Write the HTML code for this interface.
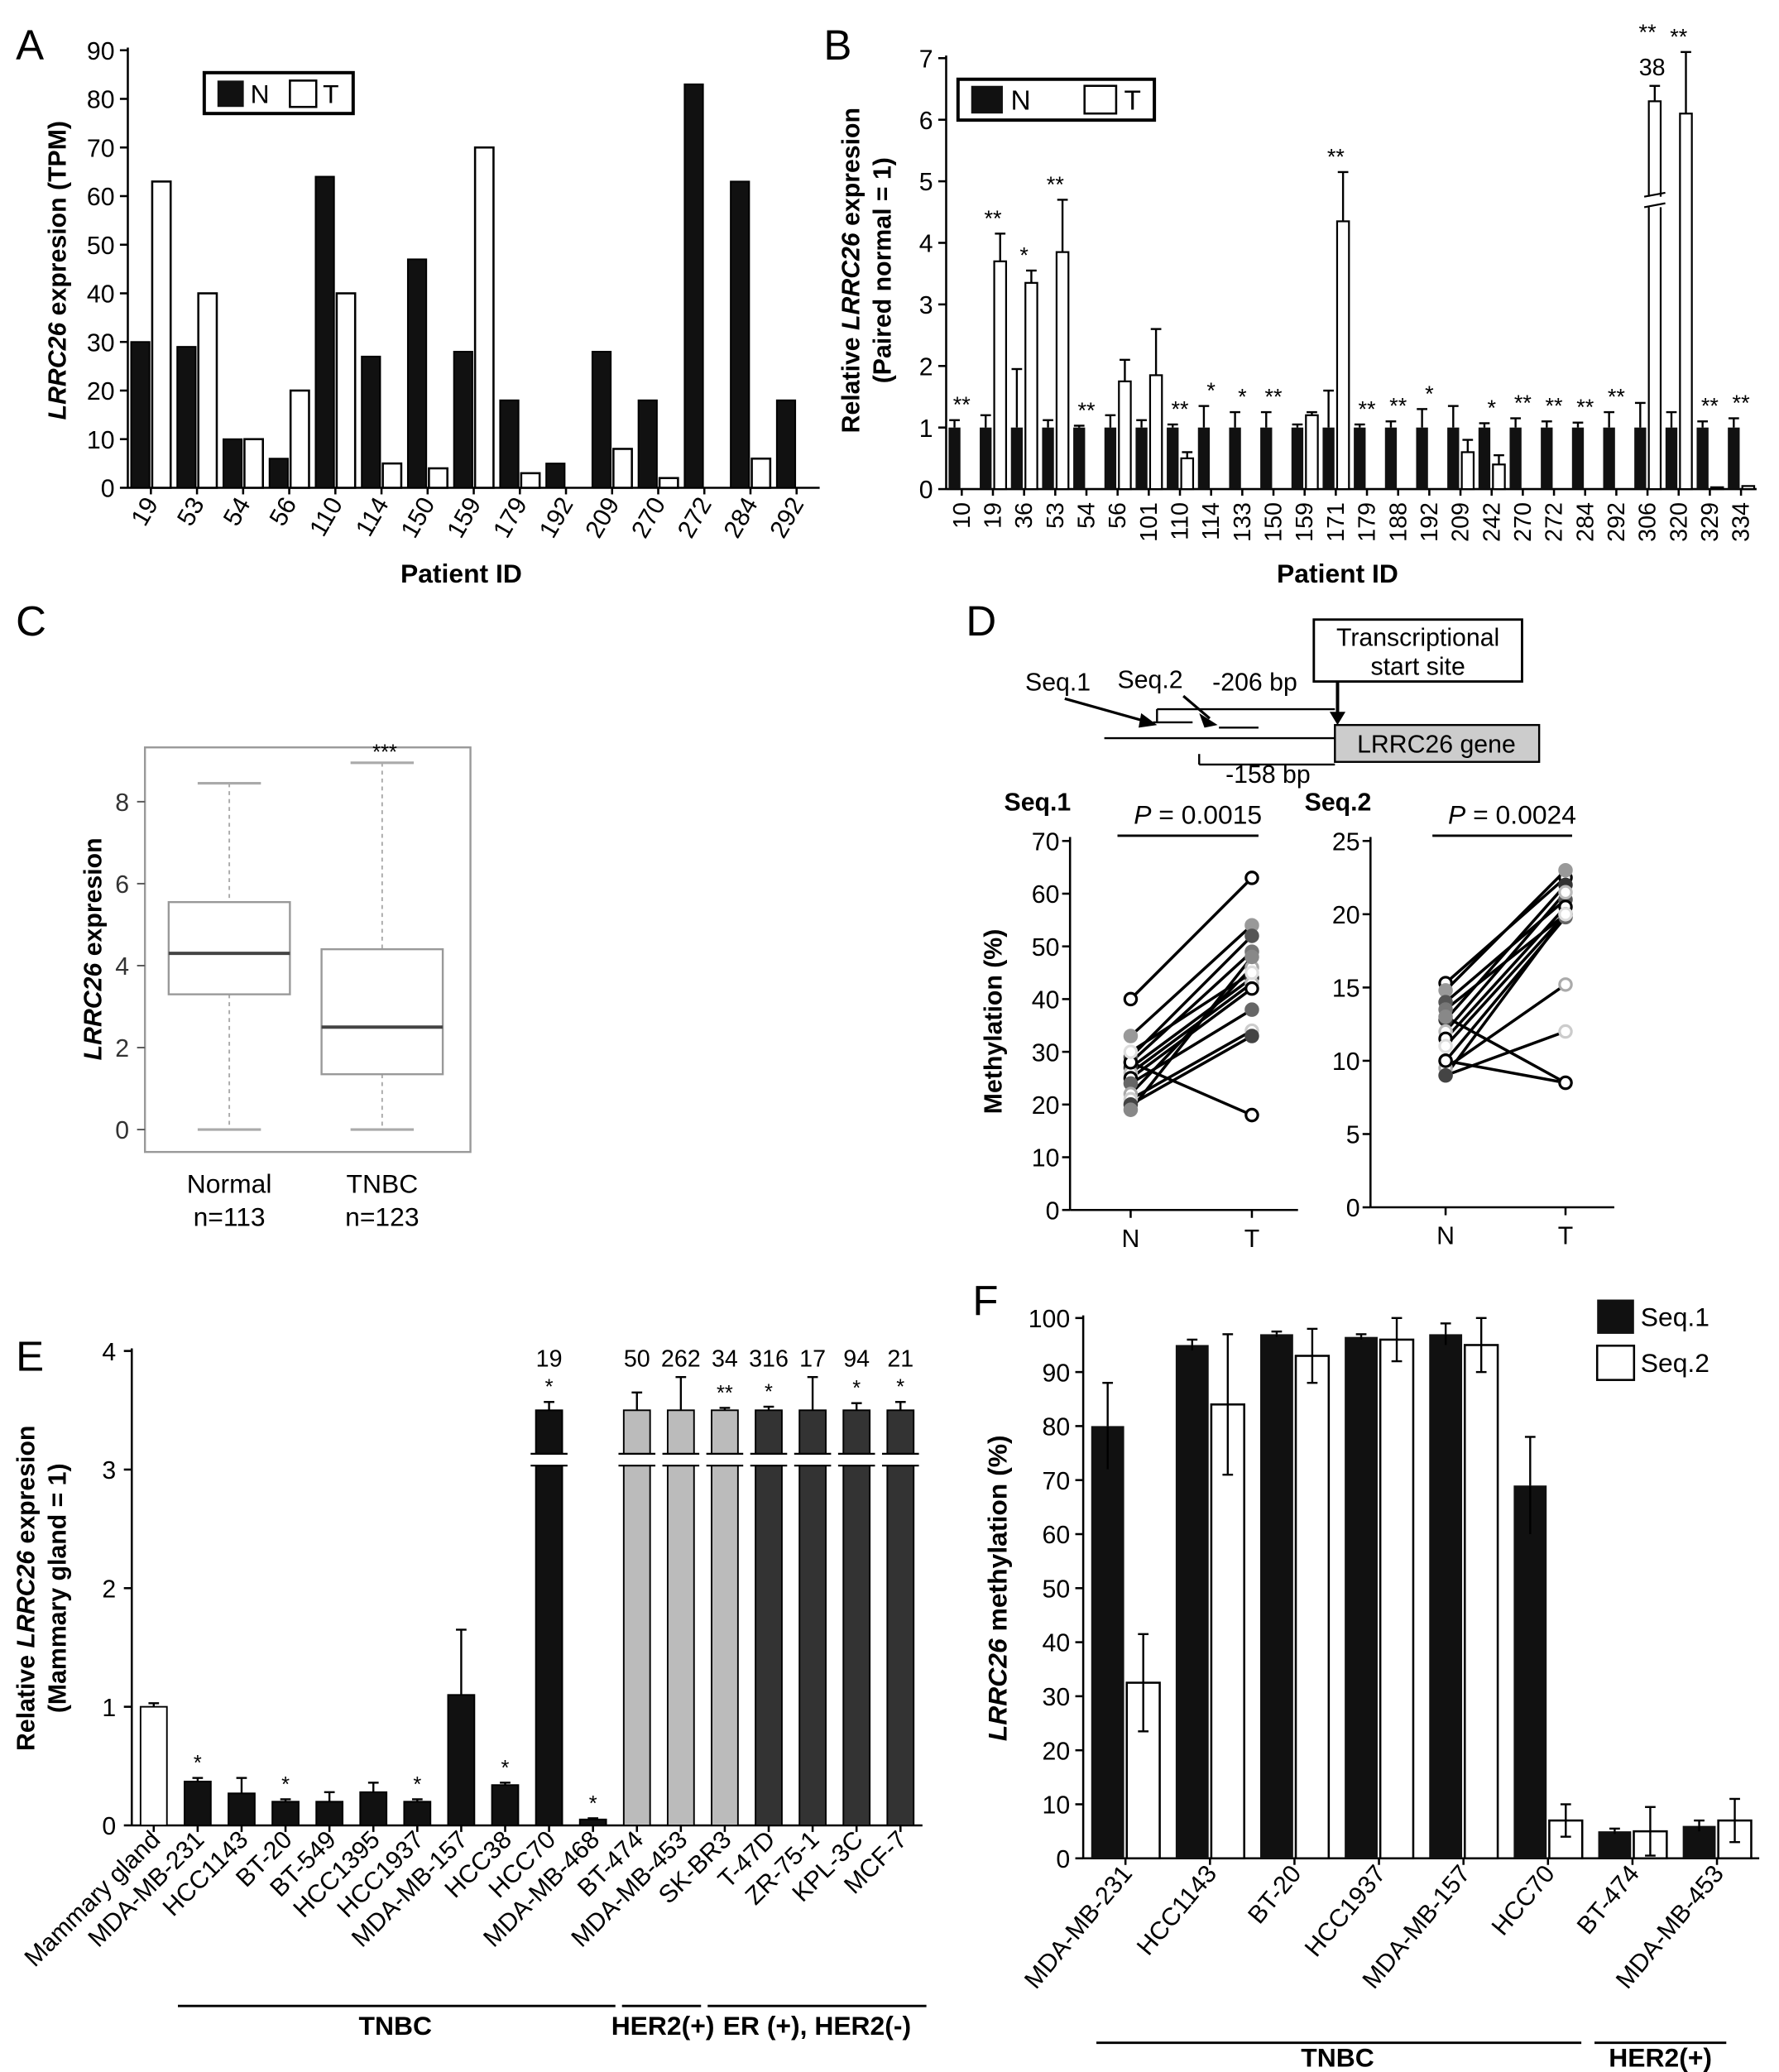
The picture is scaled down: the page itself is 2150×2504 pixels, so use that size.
<!DOCTYPE html>
<html><head><meta charset="utf-8"><style>
html,body{margin:0;padding:0;background:#fff}
svg{display:block;font-family:"Liberation Sans",Arial,sans-serif}
</style></head><body>
<svg id="fig" xmlns="http://www.w3.org/2000/svg" width="2150" height="2504" viewBox="0 0 1350 1572"></svg>
<script>
// ---------- DATA ----------
const aPatients=["19","53","54","56","110","114","150","159","179","192","209","270","272","284","292"];
const aN=[30,29,10,6,64,27,47,28,18,5,28,18,83,63,18];
const aT=[63,40,10,20,40,5,4,70,3,0,8,2,0,6,0];
const aTicks=[0,10,20,30,40,50,60,70,80,90];

const bPatients=["10","19","36","53","54","56","101","110","114","133","150","159","171","179","188","192","209","242","270","272","284","292","306","320","329","334"];
const bN=[1,1,1,1,1,1,1,1,1,1,1,1,1,1,1,1,1,1,1,1,1,1,1,1,1,1];
const bNerr=[0.12,0.2,0.95,0.12,0.03,0.2,0.12,0.05,0.35,0.25,0.25,0.05,0.6,0.05,0.1,0.3,0.35,0.07,0.15,0.1,0.08,0.25,0.4,0.25,0.1,0.15];
const bT=[0,3.7,3.35,3.85,0,1.75,1.85,0.5,0,0,0,1.2,4.35,0,0,0,0.6,0.4,0,0,0,0,6.3,6.1,0.03,0.05];
const bTerr=[0,0.45,0.2,0.85,0,0.35,0.75,0.1,0,0,0,0.05,0.8,0,0,0,0.2,0.15,0,0,0,0,0.25,1.0,0,0];
const bStars=["**","**","*","**","**","","","**","*","*","**","","**","**","**","*","","*","**","**","**","**","**","**","**","**"];
const bTicks=[0,1,2,3,4,5,6,7];

const cGroups=["Normal","TNBC"];
const cN=["n=113","n=123"];
const cMin=[0,0],cQ1=[3.3,1.35],cMed=[4.3,2.5],cQ3=[5.55,4.4],cMax=[8.45,8.95];
const cTicks=[0,2,4,6,8];

const d1N=[40,33,29,28,27,26,25,24,22,21,20,19,28,30];
const d1T=[63,54,52,49,44,43,42,38,46,34,33,48,18,45];
const d2N=[15.3,14.8,14,13.5,12.8,12,11.5,10,9.5,9,9,13,10,11];
const d2T=[22.5,23,21,20,22,21.5,20.5,19.8,15.2,12,20,8.5,8.5,20];
const dColors=["#000","#999","#555","#777","#333","#bbb","#000","#666","#aaa","#ccc","#444","#888","#000","#ddd"];
const dFill=[false,true,true,true,true,false,false,true,false,false,true,true,false,false];
const d1Ticks=[0,10,20,30,40,50,60,70];
const d2Ticks=[0,5,10,15,20,25];

const eLines=["Mammary gland","MDA-MB-231","HCC1143","BT-20","BT-549","HCC1395","HCC1937","MDA-MB-157","HCC38","HCC70","MDA-MB-468","BT-474","MDA-MB-453","SK-BR3","T-47D","ZR-75-1","KPL-3C","MCF-7"];
const eVals=[1.0,0.37,0.27,0.2,0.2,0.28,0.2,1.1,0.34,3.5,0.05,3.5,3.5,3.5,3.5,3.5,3.5,3.5];
const eErr=[0.03,0.03,0.13,0.02,0.08,0.08,0.02,0.55,0.02,0.07,0.01,0.15,0.28,0.02,0.03,0.28,0.06,0.07];
const eTop=["","","","","","","","","","19","","50","262","34","316","17","94","21"];
const eStars=["","*","","*","","","*","","*","*","*","","","**","*","","*","*"];
const eFill=["#fff","#111","#111","#111","#111","#111","#111","#111","#111","#111","#111","#bbb","#bbb","#bbb","#333","#333","#333","#333"];
const eTicks=[0,1,2,3,4];

const fLines=["MDA-MB-231","HCC1143","BT-20","HCC1937","MDA-MB-157","HCC70","BT-474","MDA-MB-453"];
const fS1=[80,95,97,96.5,97,69,5,6];
const fS1e=[8,1,0.5,0.5,2,9,0.5,1];
const fS2=[32.5,84,93,96,95,7,5,7];
const fS2e=[9,13,5,4,5,3,4.5,4];
const fTicks=[0,10,20,30,40,50,60,70,80,90,100];

// ---------- HELPERS ----------
const NS="http://www.w3.org/2000/svg";
const svg=document.getElementById('fig');
function mk(tag,at,par){const e=document.createElementNS(NS,tag);for(const k in at)e.setAttribute(k,at[k]);(par||svg).appendChild(e);return e;}
function txt(x,y,s,size,at,par){const t=mk('text',Object.assign({x:x,y:y,'font-size':size},at||{}),par);t.textContent=s;return t;}
function grp(name){const g=mk('g',{});return g;}
function line(x1,y1,x2,y2,par,w,c){return mk('line',{x1:x1,y1:y1,x2:x2,y2:y2,stroke:c||'#000','stroke-width':w||1.6},par);}
function errbar(x,y1,y2,par){line(x,y1,x,y2,par,1.5);line(x-4,y2,x+4,y2,par,1.5);}

// ---------- PANEL A ----------
(function(){
const g=grp('panel-a');
const x0=97,x1=622,y0=370,yT=38,maxV=90;
const ys=v=>y0-(v/maxV)*(y0-yT);
const gw=(x1-x0)/aPatients.length;
let p=txt(12,45,"A",32,{},g);
line(x0,yT-2,x0,y0,g);line(x0,y0,x1,y0,g);
aTicks.forEach(v=>{line(x0-6,ys(v),x0,ys(v),g);const t=txt(x0-10,ys(v)+7,String(v),19,{'text-anchor':'end'},g);
});
aPatients.forEach((pid,i)=>{
 const cx=x0+gw*(i+0.5);
 const r1=mk('rect',{x:cx-15,y:ys(aN[i]),width:14,height:y0-ys(aN[i]),fill:'#111',stroke:'#000','stroke-width':1.2},g);
 
 const r2=mk('rect',{x:cx+1,y:ys(aT[i]),width:14,height:y0-ys(aT[i]),fill:'#fff',stroke:'#000','stroke-width':1.6},g);
 
 line(cx,y0,cx,y0+5,g);
 const t=txt(cx+6,y0+12,pid,19,{'text-anchor':'end',transform:`rotate(-60 ${cx+6} ${y0+12})`},g);
 
});
let t=txt(350,442,"Patient ID",20,{'text-anchor':'middle','font-weight':'bold'},g);

t=mk('text',{x:0,y:0,'font-size':19,'font-weight':'bold','text-anchor':'middle',transform:'translate(50,205) rotate(-90)'},g);
t.innerHTML='<tspan font-style="italic">LRRC26</tspan> expresion (TPM)';

const lg=grp('a-legend');g.appendChild(lg);
mk('rect',{x:155,y:55,width:113,height:31,fill:'#fff',stroke:'#000','stroke-width':2.5},lg);
mk('rect',{x:165,y:61,width:20,height:20,fill:'#111'},lg);txt(190,78,"N",20,{},lg);
mk('rect',{x:220,y:61,width:20,height:20,fill:'#fff',stroke:'#000','stroke-width':1.6},lg);txt(245,78,"T",20,{},lg);
})();

// ---------- PANEL B ----------
(function(){
const g=grp('panel-b');
const x0=718,x1=1333,y0=371,yT=44,maxV=7;
const ys=v=>y0-(v/maxV)*(y0-yT);
const gw=(x1-x0)/bPatients.length;
let p=txt(625,45,"B",32,{},g);
line(x0,yT-2,x0,y0,g);line(x0,y0,x1,y0,g);
bTicks.forEach(v=>{line(x0-6,ys(v),x0,ys(v),g);const t=txt(x0-10,ys(v)+7,String(v),19,{'text-anchor':'end'},g);
});
bPatients.forEach((pid,i)=>{
 const cx=x0+gw*(i+0.5);
 const r1=mk('rect',{x:cx-10,y:ys(bN[i]),width:9,height:y0-ys(bN[i]),fill:'#111'},g);
 
 errbar(cx-5.5,ys(bN[i]),ys(bN[i]+bNerr[i]),g);
 const r2=mk('rect',{x:cx+1,y:ys(bT[i]),width:9,height:y0-ys(bT[i]),fill:'#fff',stroke:'#000','stroke-width':1.4},g);
 
 if(bTerr[i]>0)errbar(cx+5.5,ys(bT[i]),ys(bT[i]+bTerr[i]),g);
 const top=Math.max(bN[i]+bNerr[i],bT[i]+bTerr[i]);
 const sy=pid==="306"?30:ys(top)-6;
 if(bStars[i]){const s=txt(cx,sy,bStars[i],17,{'text-anchor':'middle'},g);}
 line(cx,y0,cx,y0+5,g);
 const t=txt(cx+6,y0+10,pid,18,{'text-anchor':'end',transform:`rotate(-90 ${cx+6} ${y0+10})`},g);
 
});
const bi=bPatients.indexOf("306");const bx=x0+gw*(bi+0.5)+5.5;
mk('rect',{x:bx-7,y:ys(4.75),width:14,height:8,fill:'#fff'},g);
line(bx-8,ys(4.75),bx+8,ys(4.75)-3,g,1.4);line(bx-8,ys(4.75)+8,bx+8,ys(4.75)+5,g,1.4);
let s=txt(bx-2,57,"38",18,{'text-anchor':'middle'},g);
let t=txt(1015,442,"Patient ID",20,{'text-anchor':'middle','font-weight':'bold'},g);

t=mk('text',{x:0,y:0,'font-size':19,'font-weight':'bold','text-anchor':'middle',transform:'translate(652,205) rotate(-90)'},g);
t.innerHTML='Relative <tspan font-style="italic">LRRC26</tspan> expresion';

t=txt(0,0,"(Paired normal = 1)",19,{'font-weight':'bold','text-anchor':'middle',transform:'translate(676,205) rotate(-90)'},g);

const lg=grp('b-legend');g.appendChild(lg);
mk('rect',{x:727,y:60,width:149,height:31,fill:'#fff',stroke:'#000','stroke-width':2.5},lg);
mk('rect',{x:737,y:65,width:24,height:21,fill:'#111'},lg);txt(767,83,"N",21,{},lg);
mk('rect',{x:823,y:65,width:24,height:21,fill:'#fff',stroke:'#000','stroke-width':1.6},lg);txt(853,83,"T",21,{},lg);
})();

// ---------- PANEL C ----------
(function(){
const g=grp('panel-c');
let p=txt(12,482,"C",32,{},g);
mk('rect',{x:110,y:567,width:247,height:307,fill:'#fff',stroke:'#999','stroke-width':1.5},g);
const y0=857,per=31.1;const ys=v=>y0-v*per;
cTicks.forEach(v=>{line(104,ys(v),110,ys(v),g,1.2,'#555');const t=txt(98,ys(v)+7,String(v),19,{'text-anchor':'end','fill':'#333'},g);
});
const cx=[174,290];
cGroups.forEach((nm,i)=>{
 const bg=grp('box-'+nm.toLowerCase());g.appendChild(bg);
 line(cx[i],ys(cMax[i]),cx[i],ys(cQ3[i]),bg,1.2,'#aaa').setAttribute('stroke-dasharray','3,3');
 line(cx[i],ys(cQ1[i]),cx[i],ys(cMin[i]),bg,1.2,'#aaa').setAttribute('stroke-dasharray','3,3');
 line(cx[i]-24,ys(cMax[i]),cx[i]+24,ys(cMax[i]),bg,2,'#aaa');
 line(cx[i]-24,ys(cMin[i]),cx[i]+24,ys(cMin[i]),bg,2,'#aaa');
 mk('rect',{x:cx[i]-46,y:ys(cQ3[i]),width:92,height:ys(cQ1[i])-ys(cQ3[i]),fill:'#fff',stroke:'#999','stroke-width':1.5},bg);
 line(cx[i]-46,ys(cMed[i]),cx[i]+46,ys(cMed[i]),bg,2.5,'#444');
 txt(cx[i],905,nm,20,{'text-anchor':'middle'},bg);
 txt(cx[i],930,cN[i],20,{'text-anchor':'middle'},bg);
});
let s=txt(292,576,"***",16,{'text-anchor':'middle'},g);
let t=mk('text',{x:0,y:0,'font-size':19,'font-weight':'bold','text-anchor':'middle',transform:'translate(77,720) rotate(-90)'},g);
t.innerHTML='<tspan font-style="italic">LRRC26</tspan> expresion';

})();

// ---------- PANEL D ----------
(function(){
const g=grp('panel-d');
let p=txt(733,482,"D",32,{},g);
const sc=grp('promoter-schematic');g.appendChild(sc);
mk('rect',{x:997,y:470,width:158,height:47,fill:'#fff',stroke:'#000','stroke-width':1.8},sc);
txt(1076,490,"Transcriptional",19,{'text-anchor':'middle'},sc);txt(1076,512,"start site",19,{'text-anchor':'middle'},sc);
line(1015,517,1015,546,sc,2.5);mk('path',{d:'M1009,540 L1015,550 L1021,540 Z'},sc);
mk('rect',{x:1013,y:550,width:155,height:28,fill:'#ccc',stroke:'#000','stroke-width':1.5},sc);
txt(1090,571,"LRRC26 gene",19,{'text-anchor':'middle'},sc);
line(838,560,1013,560,sc,1.5);
line(878,538,1013,538,sc,1.5);line(878,538,878,548,sc,1.5);
line(910,580,1013,580,sc,1.5);line(910,572,910,580,sc,1.5);
txt(920,524,"-206 bp",19,{},sc);txt(930,594,"-158 bp",19,{},sc);
txt(778,524,"Seq.1",19,{},sc);txt(848,522,"Seq.2",19,{},sc);
line(808,530,872,548,sc,2);mk('path',{d:'M866,541 L878,550 L864,552 Z'},sc);
line(898,528,918,545,sc,2);mk('path',{d:'M910,541 L924,550 L914,552 Z'},sc);
line(875,548,905,548,sc,1.5);line(925,552,955,552,sc,1.5);
function slope(x0,y0,yT,maxV,ticks,nA,tA,label,pval,xN,xT,xR,name){
 const sg=grp(name);g.appendChild(sg);
 const ys=v=>y0-(v/maxV)*(y0-yT);
 line(x0,yT-3,x0,y0,sg);line(x0,y0,xR,y0,sg);
 ticks.forEach(v=>{line(x0-6,ys(v),x0,ys(v),sg);const t=txt(x0-8,ys(v)+7,String(v),19,{'text-anchor':'end'},sg);
 });
 line(xN,y0,xN,y0+6,sg);line(xT,y0,xT,y0+6,sg);
 txt(xN,y0+28,"N",19,{'text-anchor':'middle'},sg);txt(xT,y0+28,"T",19,{'text-anchor':'middle'},sg);
 txt(x0-50,615,label,19,{'font-weight':'bold'},sg);
 const pt=mk('text',{x:(xN+xT)/2+5,y:625,'font-size':20,'text-anchor':'middle'},sg);pt.innerHTML='<tspan font-style="italic">P</tspan> = '+pval;
 line(xN-10,634,xT+5,634,sg,1.8);
 nA.forEach((v,i)=>{line(xN,ys(v),xT,ys(tA[i]),sg,2.2,'#000');});
 nA.forEach((v,i)=>{
  const c1=mk('circle',{cx:xN,cy:ys(v),r:4.5,fill:dFill[i]?dColors[i]:'#fff',stroke:dColors[i],'stroke-width':2},sg);
  
  const c2=mk('circle',{cx:xT,cy:ys(tA[i]),r:4.5,fill:dFill[i]?dColors[i]:'#fff',stroke:dColors[i],'stroke-width':2},sg);
  
 });
}
slope(812,918,638,70,d1Ticks,d1N,d1T,"Seq.1","0.0015",858,950,985,'seq1-plot');
slope(1040,916,638,25,d2Ticks,d2N,d2T,"Seq.2","0.0024",1097,1188,1225,'seq2-plot');
let t=txt(0,0,"Methylation (%)",19,{'font-weight':'bold','text-anchor':'middle',transform:'translate(760,775) rotate(-90)'},g);

})();

// ---------- PANEL E ----------
(function(){
const g=grp('panel-e');
let p=txt(12,1040,"E",32,{},g);
const x0=100,x1=700,y0=1385,yT=1025,maxV=4;
const ys=v=>y0-(v/maxV)*(y0-yT);
const gw=(x1-x0)/eLines.length;
line(x0,yT-2,x0,y0,g);line(x0,y0,x1,y0,g);
eTicks.forEach(v=>{line(x0-6,ys(v),x0,ys(v),g);const t=txt(x0-12,ys(v)+7,String(v),19,{'text-anchor':'end'},g);
});
eLines.forEach((nm,i)=>{
 const cx=x0+gw*(i+0.5);
 const r=mk('rect',{x:cx-10,y:ys(eVals[i]),width:20,height:y0-ys(eVals[i]),fill:eFill[i],stroke:'#000','stroke-width':1.2},g);
 
 errbar(cx,ys(eVals[i]),ys(eVals[i]+eErr[i]),g);
 if(eVals[i]>3){mk('rect',{x:cx-13,y:ys(3.1)-3,width:26,height:9,fill:'#fff'},g);
  line(cx-14,ys(3.1)-3,cx+14,ys(3.1)-3,g,1.4);line(cx-14,ys(3.1)+6,cx+14,ys(3.1)+6,g,1.4);}
 if(eStars[i]){const s=txt(cx,ys(eVals[i]+eErr[i])-6,eStars[i],16,{'text-anchor':'middle'},g);}
 if(eTop[i]){const s=txt(cx,1037,eTop[i],18,{'text-anchor':'middle'},g);}
 line(cx,y0,cx,y0+5,g);
 const t=txt(cx+6,y0+12,nm,19,{'text-anchor':'end',transform:`rotate(-45 ${cx+6} ${y0+12})`},g);
 
});
let t=mk('text',{x:0,y:0,'font-size':19,'font-weight':'bold','text-anchor':'middle',transform:'translate(26,1205) rotate(-90)'},g);
t.innerHTML='Relative <tspan font-style="italic">LRRC26</tspan> expresion';

t=txt(0,0,"(Mammary gland = 1)",19,{'font-weight':'bold','text-anchor':'middle',transform:'translate(50,1205) rotate(-90)'},g);
const gr=grp('e-group-labels');g.appendChild(gr);
line(135,1522,467,1522,gr,1.8);txt(300,1544,"TNBC",20,{'text-anchor':'middle','font-weight':'bold'},gr);
line(472,1522,532,1522,gr,1.8);txt(503,1544,"HER2(+)",20,{'text-anchor':'middle','font-weight':'bold'},gr);
line(537,1522,703,1522,gr,1.8);txt(620,1544,"ER (+), HER2(-)",20,{'text-anchor':'middle','font-weight':'bold'},gr);
})();

// ---------- PANEL F ----------
(function(){
const g=grp('panel-f');
let p=txt(738,998,"F",32,{},g);
const x0=822,x1=1335,y0=1410,yT=1000,maxV=100;
const ys=v=>y0-(v/maxV)*(y0-yT);
const gw=(x1-x0)/fLines.length;
line(x0,yT-2,x0,y0,g);line(x0,y0,x1,y0,g);
fTicks.forEach(v=>{line(x0-6,ys(v),x0,ys(v),g);const t=txt(x0-10,ys(v)+7,String(v),19,{'text-anchor':'end'},g);
});
fLines.forEach((nm,i)=>{
 const cx=x0+gw*(i+0.5);
 const r1=mk('rect',{x:cx-26,y:ys(fS1[i]),width:25,height:y0-ys(fS1[i]),fill:'#111'},g);
 
 errbar(cx-13.5,ys(fS1[i]),ys(fS1[i]+fS1e[i]),g);
 line(cx-13.5,ys(fS1[i]),cx-13.5,ys(fS1[i]-fS1e[i]),g,1.5);
 const r2=mk('rect',{x:cx+1,y:ys(fS2[i]),width:25,height:y0-ys(fS2[i]),fill:'#fff',stroke:'#000','stroke-width':1.6},g);
 
 errbar(cx+13.5,ys(fS2[i]),ys(fS2[i]+fS2e[i]),g);
 line(cx+13.5,ys(fS2[i]),cx+13.5,ys(fS2[i]-fS2e[i]),g,1.5);line(cx+9.5,ys(fS2[i]-fS2e[i]),cx+17.5,ys(fS2[i]-fS2e[i]),g,1.5);
 line(cx,y0,cx,y0+5,g);
 const t=txt(cx+6,y0+12,nm,19,{'text-anchor':'end',transform:`rotate(-50 ${cx+6} ${y0+12})`},g);
 
});
let t=mk('text',{x:0,y:0,'font-size':20,'font-weight':'bold','text-anchor':'middle',transform:'translate(764,1205) rotate(-90)'},g);
t.innerHTML='<tspan font-style="italic">LRRC26</tspan> methylation (%)';

const lg=grp('f-legend');g.appendChild(lg);
mk('rect',{x:1212,y:986,width:28,height:26,fill:'#111'},lg);txt(1245,1006,"Seq.1",20,{},lg);
mk('rect',{x:1212,y:1021,width:28,height:26,fill:'#fff',stroke:'#000','stroke-width':1.6},lg);txt(1245,1041,"Seq.2",20,{},lg);
const gr=grp('f-group-labels');g.appendChild(gr);
line(832,1550,1200,1550,gr,1.8);txt(1015,1568,"TNBC",20,{'text-anchor':'middle','font-weight':'bold'},gr);
line(1210,1550,1310,1550,gr,1.8);txt(1260,1568,"HER2(+)",20,{'text-anchor':'middle','font-weight':'bold'},gr);
})();
</script>
</body></html>
